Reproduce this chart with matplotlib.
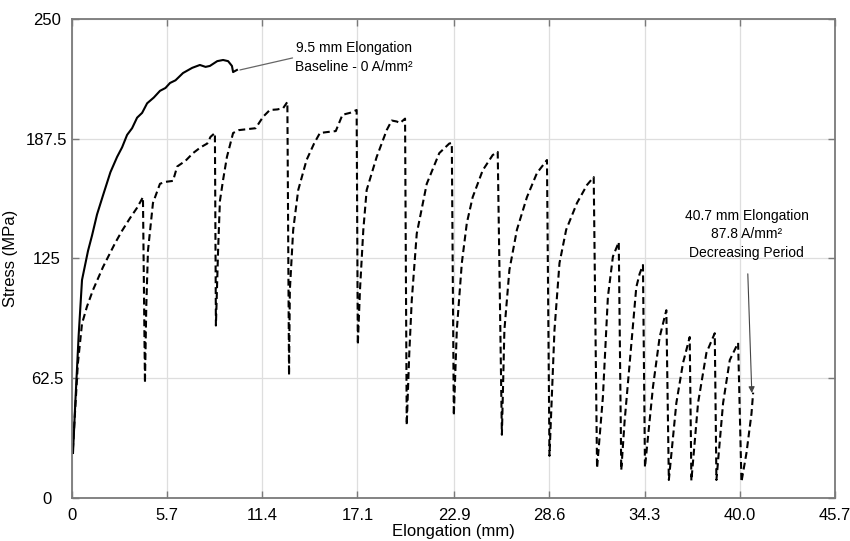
import matplotlib
matplotlib.use("Agg")
import matplotlib.pyplot as plt

plt.rcParams['font.family'] = ['Liberation Sans', 'DejaVu Sans']

# baseline test, 0 A/mm^2 (solid)
base_x = [0.06, 0.2, 0.4, 0.6, 0.96, 1.2, 1.5, 1.86, 2.3, 2.7, 3.0, 3.3,
          3.6, 3.9, 4.2, 4.5, 4.9, 5.27, 5.6, 5.87, 6.2, 6.65, 7.2, 7.66,
          8.0, 8.26, 8.7, 9.05, 9.35, 9.58, 9.65, 9.88]
base_y = [23.5, 50, 85, 113.8, 129, 137, 148, 158, 170, 178, 183, 189.5,
          193, 198.5, 201, 206, 209, 212.5, 214, 216.6, 218, 221.8, 224.5, 226,
          225, 225.5, 228, 228.6, 228, 225.5, 222.3, 223.4]

# pulsed current, 87.8 A/mm^2 decreasing period (dashed)
pulse_x = [0.05, 0.35, 0.6, 0.9, 1.26, 1.86, 2.58, 3.0, 3.47, 3.9, 4.25,
           4.37, 4.45, 4.55, 4.85, 5.27, 5.6, 6.05, 6.3, 6.8, 7.25, 7.7, 8.1, 8.3, 8.56,
           8.62, 8.75, 8.86, 9.05, 9.28, 9.65, 10.0, 10.5, 11.0, 11.45, 11.85, 12.3, 12.65, 12.9,
           13.0, 13.05, 13.25, 13.55, 14.05, 14.5, 14.85, 15.3, 15.8, 16.2, 16.65, 17.05,
           17.12, 17.25, 17.45, 17.65, 18.25, 18.85, 19.15, 19.45, 19.65, 19.95,
           20.05, 20.2, 20.35, 20.65, 21.25, 22.0, 22.6, 22.75,
           22.87, 23.05, 23.35, 23.65, 24.0, 24.6, 25.2, 25.5,
           25.75, 25.9, 26.2, 26.65, 27.25, 27.85, 28.45,
           28.6, 28.9, 29.2, 29.6, 30.25, 30.85, 31.25,
           31.45, 31.8, 32.1, 32.4, 32.75,
           32.9, 33.1, 33.4, 33.8, 34.0, 34.2,
           34.32, 34.8, 35.2, 35.6,
           35.75, 36.2, 36.6, 37.0,
           37.1, 37.5, 38.0, 38.5,
           38.6, 39.0, 39.4, 39.9,
           40.1, 40.4, 40.7, 40.8]
pulse_y = [25, 70, 91, 100, 108.6, 120.6, 133, 139.5, 146, 151.5, 157,
           60, 100, 129, 154, 164, 165, 165.5, 173, 176, 180, 183, 185, 188.5, 190.5,
           90, 129, 155, 166, 178, 190.5, 192, 192.5, 193, 199, 202.5, 202.8, 203.5, 206.7,
           64, 108.6, 140, 160.7, 176.4, 185, 190.5, 191, 191.5, 200, 201, 202.5,
           80, 108.6, 140, 160.7, 178, 192, 197, 196.5, 195.7, 198,
           38, 75, 103, 138, 164, 180, 185, 185.3,
           43, 87.7, 122.6, 143.5, 157, 171, 179, 180.6,
           33, 87.7, 119, 140, 157, 169.6, 176.4,
           22, 87.7, 122.6, 140, 154, 163.4, 167.5,
           15.6, 52.7, 105, 126, 133.6,
           14.6, 40, 70, 110, 117, 121.6,
           16, 58, 84, 98,
           9.4, 49.6, 70.5, 84,
           9, 49.6, 75.7, 86,
           9.4, 49.6, 72, 81,
           8.4, 23.5, 44, 55]

x_ticks = [0, 5.7, 11.4, 17.1, 22.9, 28.6, 34.3, 40.0, 45.7]
x_tick_labels = ['0', '5.7', '11.4', '17.1', '22.9', '28.6', '34.3', '40.0', '45.7']
y_ticks = [0, 62.5, 125, 187.5, 250]
y_tick_labels = ['0', '62.5', '125', '187.5', '250']

fig = plt.figure(figsize=(8.5, 5.41), dpi=100)
ax = fig.add_axes([0.0847, 0.0795, 0.8976, 0.8854])

ax.plot(base_x, base_y, color='black', lw=1.5, solid_joinstyle='round')
ax.plot(pulse_x, pulse_y, color='black', lw=1.5, dashes=(3.3, 1.9))

ax.set_xlim(0, 45.7)
ax.set_ylim(0, 250)
ax.set_xticks(x_ticks)
ax.set_xticklabels(x_tick_labels)
ax.set_yticks(y_ticks)
ax.set_yticklabels(y_tick_labels)
ax.grid(True, color='#dedede', lw=0.9)
ax.set_axisbelow(True)
for s in ax.spines.values():
    s.set_color('#7a7a7a')
    s.set_linewidth(1.3)
ax.tick_params(direction='in', length=5, width=1, color='#7a7a7a',
               top=True, right=True, labelsize=12)
ax.tick_params(axis='x', pad=7)
ax.tick_params(axis='y', pad=18)
for lab in ax.get_yticklabels():
    lab.set_horizontalalignment('center')

ax.set_xlabel('Elongation (mm)', fontsize=12, labelpad=1)
ax.set_ylabel('Stress (MPa)', fontsize=12)
ax.yaxis.set_label_coords(-0.071, 0.5)

ax.annotate('9.5 mm Elongation\nBaseline - 0 A/mm²', xy=(10.06, 223.4),
            xytext=(16.9, 230), ha='center', va='center', fontsize=10,
            linespacing=1.45,
            arrowprops=dict(arrowstyle='-', color='#666666', lw=0.9,
                            shrinkA=0, shrinkB=0, relpos=(0, 0.5)))
ax.text(40.4, 124, '40.7 mm Elongation\n87.8 A/mm²\nDecreasing Period',
        ha='center', va='bottom', fontsize=10, linespacing=1.45)
ax.annotate('', xy=(40.72, 54.8), xytext=(40.48, 117),
            arrowprops=dict(arrowstyle='-|>', color='#444444', lw=0.8,
                            mutation_scale=9, shrinkA=0, shrinkB=0))

fig.savefig('out.png', dpi=100)
